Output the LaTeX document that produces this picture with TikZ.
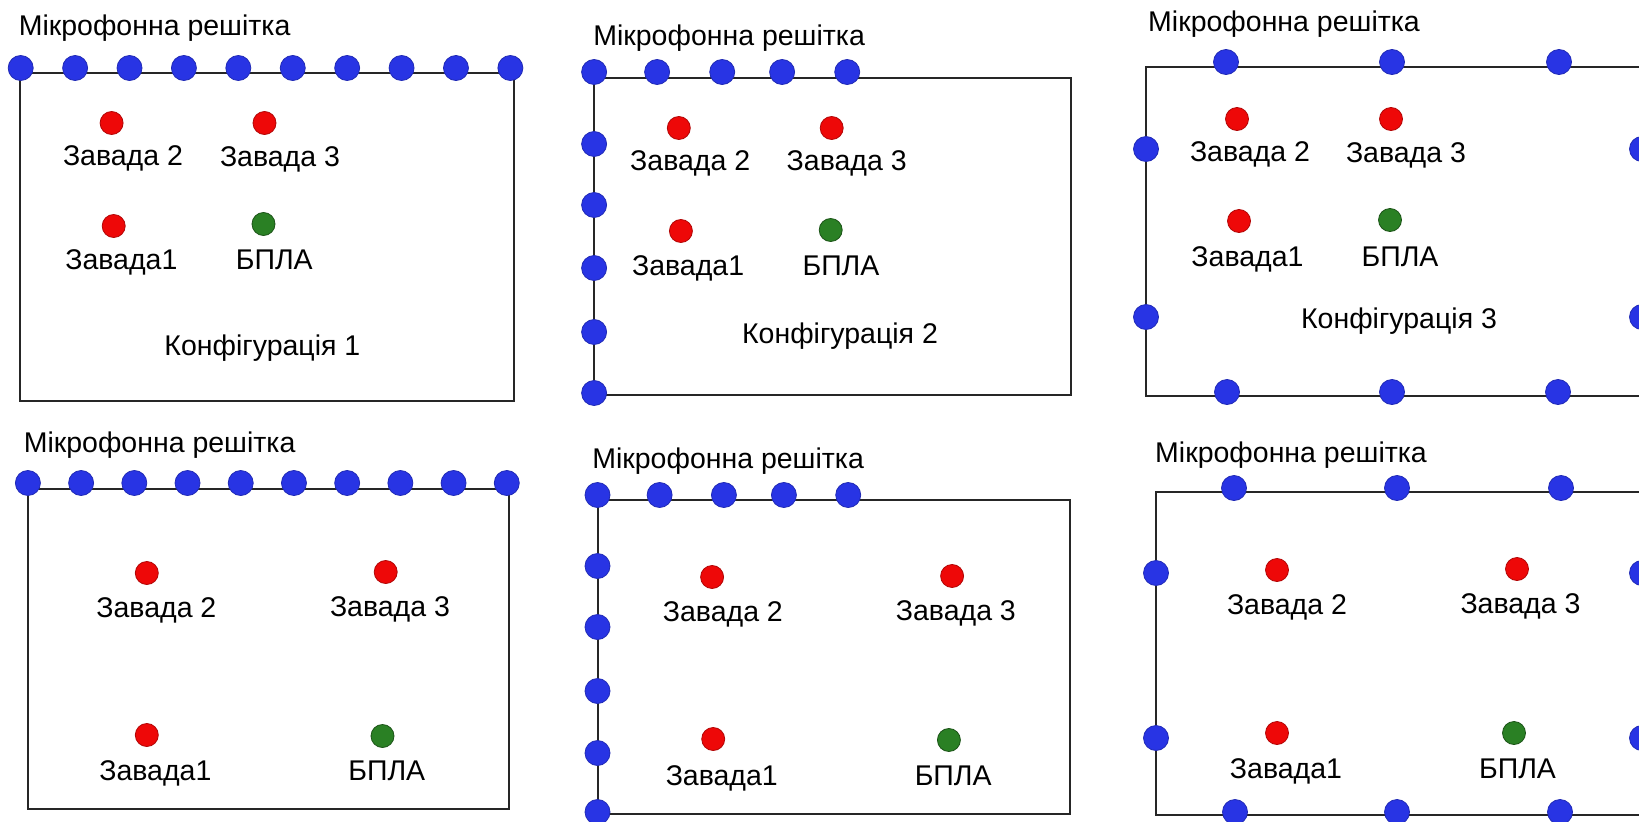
\documentclass[tikz,border=0pt]{standalone}
\usepackage{fontspec}
\setmainfont{Liberation Sans}
\definecolor{micblue}{RGB}{40,52,228}
\definecolor{noisered}{RGB}{238,8,8}
\definecolor{uavgreen}{RGB}{42,128,36}

\begin{document}
\begin{tikzpicture}[x=1pt, y=-1pt,
    frame/.style={line width=2pt, draw=black!85},
    mic/.style={circle, inner sep=0pt, minimum size=25pt, fill=micblue, draw=micblue!80!black, line width=0.8pt},
    noise/.style={circle, inner sep=0pt, minimum size=23pt, fill=noisered, draw=noisered!75!black, line width=0.8pt},
    uav/.style={noise, fill=uavgreen, draw=uavgreen!65!black},
    txt/.style={inner sep=0pt, anchor=base, font=\fontsize{28.5}{32}\selectfont},
    title/.style={txt, anchor=base west}]
  \clip (0,0) rectangle (1639,822);
  \fill[white] (0,0) rectangle (1639,822);

  % configuration 1: linear array on the top edge
  \draw[frame] (20,73) rectangle (513.5,401);
  \foreach \i in {0,...,9}
    \node[mic] (a-mic\i) at (20.7+54.41*\i,68) {};
  \node[title] (a-title) at (18.6,35) {Мікрофонна решітка};
  \node[noise] (a-n2) at (111.6,123) {};
  \node[noise] (a-n3) at (264.5,123) {};
  \node[noise] (a-n1) at (113.7,226) {};
  \node[uav] (a-uav) at (263.5,224) {};
  \node[txt] (a-l2) at (123,165) {Завада 2};
  \node[txt] (a-l3) at (280,166) {Завада 3};
  \node[txt] (a-l1) at (121.4,269) {Завада1};
  \node[txt] (a-luav) at (274.3,269) {БПЛА};
  \node[txt] (a-conf) at (262.4,355) {Конфігурація 1};

  % configuration 2: L-shaped array
  \draw[frame] (594.1,78) rectangle (1071.4,395);
  \foreach \x [count=\i] in {594.1,657.1,722.2,782.1,847.2}
    \node[mic] (b-top\i) at (\x,72) {};
  \foreach \y [count=\i] in {144,205,268,332,393}
    \node[mic] (b-left\i) at (594.1,\y) {};
  \node[title] (b-title) at (593.1,45) {Мікрофонна решітка};
  \node[noise] (b-n2) at (678.8,128) {};
  \node[noise] (b-n3) at (831.7,128) {};
  \node[noise] (b-n1) at (680.9,231) {};
  \node[uav] (b-uav) at (830.7,230) {};
  \node[txt] (b-l2) at (690.2,170) {Завада 2};
  \node[txt] (b-l3) at (846.7,170) {Завада 3};
  \node[txt] (b-l1) at (688.1,275) {Завада1};
  \node[txt] (b-luav) at (841,275) {БПЛА};
  \node[txt] (b-conf) at (840,343) {Конфігурація 2};

  % configuration 3: mics round the whole perimeter
  \draw[frame] (1146,67) rectangle (1642,396);
  \foreach \x [count=\i] in {1226,1392,1559}
    \node[mic] (c-top\i) at (\x,62) {};
  \foreach \x [count=\i] in {1227,1392,1558}
    \node[mic] (c-bot\i) at (\x,392) {};
  \foreach \y [count=\i] in {149,317}
    {
      \node[mic] (c-left\i) at (1146,\y) {};
      \node[mic] (c-right\i) at (1642,\y) {};
    }
  \node[title] (c-title) at (1148,31) {Мікрофонна решітка};
  \node[noise] (c-n2) at (1237,119) {};
  \node[noise] (c-n3) at (1391,119) {};
  \node[noise] (c-n1) at (1239,221) {};
  \node[uav] (c-uav) at (1390,220) {};
  \node[txt] (c-l2) at (1250,161) {Завада 2};
  \node[txt] (c-l3) at (1406,162) {Завада 3};
  \node[txt] (c-l1) at (1247.5,266) {Завада1};
  \node[txt] (c-luav) at (1400,266) {БПЛА};
  \node[txt] (c-conf) at (1399,328) {Конфігурація 3};

  % second row: sources spread wider
  \draw[frame] (27.9,489) rectangle (508.9,809);
  \foreach \i in {0,...,9}
    \node[mic] (d-mic\i) at (27.9+53.21*\i,483) {};
  \node[title] (d-title) at (23.6,452) {Мікрофонна решітка};
  \node[noise] (d-n2) at (146.8,573) {};
  \node[noise] (d-n3) at (385.7,572) {};
  \node[noise] (d-n1) at (146.8,735) {};
  \node[uav] (d-uav) at (382.5,736) {};
  \node[txt] (d-l2) at (156.4,617) {Завада 2};
  \node[txt] (d-l3) at (390,616) {Завада 3};
  \node[txt] (d-l1) at (155.4,780) {Завада1};
  \node[txt] (d-luav) at (386.8,780) {БПЛА};

  \draw[frame] (597.5,500) rectangle (1070,814);
  \foreach \x [count=\i] in {597.5,659.6,723.9,783.9,848.2}
    \node[mic] (e-top\i) at (\x,495) {};
  \foreach \y [count=\i] in {566,627,691,753,812}
    \node[mic] (e-left\i) at (597.5,\y) {};
  \node[title] (e-title) at (592.1,468) {Мікрофонна решітка};
  \node[noise] (e-n2) at (712.1,577) {};
  \node[noise] (e-n3) at (952.1,576) {};
  \node[noise] (e-n1) at (713.2,739) {};
  \node[uav] (e-uav) at (948.9,740) {};
  \node[txt] (e-l2) at (722.9,621) {Завада 2};
  \node[txt] (e-l3) at (955.9,620) {Завада 3};
  \node[txt] (e-l1) at (721.8,785) {Завада1};
  \node[txt] (e-luav) at (953.2,785) {БПЛА};

  \draw[frame] (1156,492) rectangle (1642,815);
  \foreach \x [count=\i] in {1234,1397,1561}
    \node[mic] (f-top\i) at (\x,488) {};
  \foreach \x [count=\i] in {1235,1397,1560}
    \node[mic] (f-bot\i) at (\x,812) {};
  \foreach \y [count=\i] in {573,738}
    {
      \node[mic] (f-left\i) at (1156,\y) {};
      \node[mic] (f-right\i) at (1642,\y) {};
    }
  \node[title] (f-title) at (1155,462) {Мікрофонна решітка};
  \node[noise] (f-n2) at (1277,570) {};
  \node[noise] (f-n3) at (1517,569) {};
  \node[noise] (f-n1) at (1277,733) {};
  \node[uav] (f-uav) at (1514,733) {};
  \node[txt] (f-l2) at (1287,614) {Завада 2};
  \node[txt] (f-l3) at (1520.5,613) {Завада 3};
  \node[txt] (f-l1) at (1286,778) {Завада1};
  \node[txt] (f-luav) at (1517.5,778) {БПЛА};
\end{tikzpicture}
\end{document}
